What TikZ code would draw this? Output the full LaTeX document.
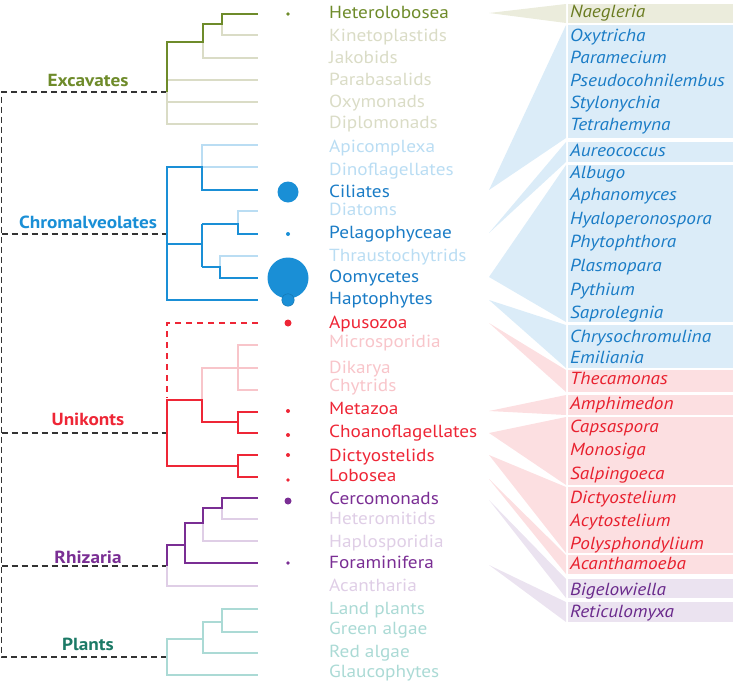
\documentclass[tikz,border=0pt]{standalone}
\usepackage{fontspec}
\setmainfont{PT Sans}[FakeStretch=1.1]
\definecolor{exD}{HTML}{6E8B2A}
\definecolor{exL}{HTML}{DADCC6}
\definecolor{exT}{HTML}{6B7C22}
\definecolor{exB}{HTML}{EBECDC}
\definecolor{chD}{HTML}{1A8FD6}
\definecolor{chL}{HTML}{BADDF3}
\definecolor{chT}{HTML}{1A7CC6}
\definecolor{chB}{HTML}{DBECF8}
\definecolor{unD}{HTML}{EE2636}
\definecolor{unL}{HTML}{F8C5CA}
\definecolor{unT}{HTML}{E8202E}
\definecolor{unB}{HTML}{FCDFE1}
\definecolor{rhD}{HTML}{7A2E94}
\definecolor{rhL}{HTML}{DFCEE6}
\definecolor{rhT}{HTML}{6A2A8C}
\definecolor{rhB}{HTML}{EBE3F0}
\definecolor{plD}{HTML}{1C7A66}
\definecolor{plL}{HTML}{ABDAD5}
\definecolor{dashc}{HTML}{333333}
\newcommand\taxfont{\fontsize{17.5}{20}\selectfont}
\newcommand\spfont{\fontsize{17.5}{20}\selectfont\itshape}
\newcommand\cladefont{\fontsize{17.5}{20}\selectfont\bfseries}
\begin{document}
\begin{tikzpicture}[x=1pt,y=-1pt,
  dk/.style={line width=2.6pt},
  lt/.style={line width=2.2pt},
  taxon/.style={anchor=base west, inner sep=0pt, font=\taxfont},
  species/.style={anchor=base west, inner sep=0pt, font=\spfont},
  clade/.style={anchor=base, inner sep=0pt, font=\cladefont},
  cdash/.style={draw=dashc, line width=1.8pt, dash pattern=on 6pt off 4pt},
  bubble/.style={circle, inner sep=0pt}]
\useasboundingbox (0,0) rectangle (733,683);
% ---------- flags (wedges + boxes) ----------
\foreach \ay/\t/\b/\c in {13/4/23/exB, 190/25/138/chB, 233/142/162/chB, 277/165/322/chB, 300/325/368/chB, 323/370/392/unB, 411/395/415/unB, 433/417/485/unB, 455/487/553/unB, 479/555/574/unB, 500/579/598/rhB, 565/602/622/rhB}
{
  \fill[fill=\c] (489,\ay) -- (566,\t) -- (566,\b) -- cycle;
  \fill[fill=\c] (567.5,\t) rectangle (733,\b);
}
% ---------- left dashed backbone ----------
\coordinate (bbTop) at (1.5,92);
\coordinate (bbBot) at (1.5,657);
\coordinate (exR) at (167,92);
\coordinate (chR) at (167,234);
\coordinate (unR) at (167,433);
\coordinate (rhR) at (167,566);
\coordinate (plR) at (167,657);
\draw[cdash] (exR) -- (bbTop) -- (bbBot) -- (plR);
\draw[cdash] (1.5,234) -- (chR);
\draw[cdash] (1.5,433) -- (unR);
\draw[cdash] (1.5,566) -- (rhR);
% ---------- Excavates ----------
\begin{scope}[draw=exL, lt]
\draw (222,24) -- (222,35) -- (258,35);
\draw (203,41) -- (203,58) -- (258,58);
\draw (167,92) -- (167,124) -- (258,124);
\draw (167,80) -- (258,80);
\draw (167,102) -- (258,102);
\end{scope}
\draw[draw=exD, dk] (258,14) -- (222,14) -- (222,24) -- (203,24) -- (203,42) -- (167,42) -- (167,92);
% ---------- Chromalveolates ----------
\begin{scope}[draw=chL, lt]
\draw (202,167) -- (202,145) -- (258,145);
\draw (202,167) -- (258,167);
\draw (238,224) -- (238,211) -- (258,211);
\draw (220,267) -- (220,256) -- (258,256);
\end{scope}
\begin{scope}[draw=chD, dk]
\draw (258,190) -- (202,190) -- (202,167) -- (167,167) -- (167,300) -- (258,300);
\draw (167,244) -- (202,244);
\draw (202,224) -- (202,267);
\draw (202,224) -- (238,224) -- (238,234) -- (258,234);
\draw (202,267) -- (220,267) -- (220,278) -- (258,278);
\end{scope}
% ---------- Unikonts ----------
\begin{scope}[draw=unL, lt]
\draw (202,400) -- (202,368) -- (258,368);
\draw (258,345) -- (238,345) -- (238,390) -- (258,390);
\end{scope}
\draw[draw=unD, line width=1.8pt, dash pattern=on 6pt off 5pt] (258,323) -- (167,323) -- (167,398);
\begin{scope}[draw=unD, dk]
\draw (258,412) -- (238,412) -- (238,433) -- (258,433);
\draw (238,422) -- (202,422) -- (202,400) -- (167,400) -- (167,466) -- (238,466);
\draw (258,455) -- (238,455) -- (238,477) -- (258,477);
\end{scope}
% ---------- Rhizaria ----------
\begin{scope}[draw=rhL, lt]
\draw (222,508) -- (222,519) -- (258,519);
\draw (203,523) -- (203,541) -- (258,541);
\draw (167,566) -- (167,586) -- (258,586);
\end{scope}
\begin{scope}[draw=rhD, dk]
\draw (258,498) -- (222,498) -- (222,508) -- (203,508) -- (203,523) -- (185,523) -- (185,563) -- (258,563);
\draw (185,545) -- (167,545) -- (167,566);
\end{scope}
% ---------- Plants ----------
\begin{scope}[draw=plL, lt]
\draw (258,609) -- (222,609) -- (222,632) -- (258,632);
\draw (222,622) -- (203,622) -- (203,653) -- (258,653);
\draw (203,639) -- (167,639) -- (167,675) -- (258,675);
\end{scope}
% ---------- clade labels ----------
\node[clade, text=exD] (lEx) at (88,86) {Excavates};
\node[clade, text=chD] (lCh) at (88,228) {Chromalveolates};
\node[clade, text=unD] (lUn) at (88,425) {Unikonts};
\node[clade, text=rhD] (lRh) at (88,563) {Rhizaria};
\node[clade, text=plD] (lPl) at (88,650) {Plants};
% ---------- bubbles ----------
\node[bubble, fill=exD, minimum size=3.6pt] (bHet) at (288,14) {};
\node[bubble, fill=chD, minimum size=21pt] (bCil) at (288,192) {};
\node[bubble, fill=chD, minimum size=4pt] (bPel) at (288,234) {};
\node[bubble, fill=chD, minimum size=41pt] (bOom) at (288,278) {};
\node[bubble, fill=chD, draw=chD!80!black, line width=0.4pt, minimum size=12.5pt] (bHap) at (288,300) {};
\node[bubble, fill=unD, minimum size=7pt] (bApu) at (288,323) {};
\node[bubble, fill=unD, minimum size=4pt] (bMet) at (288,411) {};
\node[bubble, fill=unD, minimum size=4pt] (bCho) at (288,435) {};
\node[bubble, fill=unD, minimum size=4pt] (bDic) at (288,455) {};
\node[bubble, fill=unD, minimum size=3.6pt] (bLob) at (288,480) {};
\node[bubble, fill=rhD, minimum size=7pt] (bCer) at (288,501) {};
\node[bubble, fill=rhD, minimum size=3.6pt] (bFor) at (288,563) {};
% ---------- taxa ----------
\foreach \n/\y/\c/\t in {
 t1/18/exD/Heterolobosea, t2/41/exL/Kinetoplastids, t3/63/exL/Jakobids,
 t4/85/exL/Parabasalids, t5/107/exL/Oxymonads, t6/128/exL/Diplomonads,
 t7/152/chL/Apicomplexa, t8/175/chL/Dinoflagellates, t9/197/chT/Ciliates,
 t10/215/chL/Diatoms, t11/238/chT/Pelagophyceae, t12/261/chL/Thraustochytrids,
 t13/282/chT/Oomycetes, t14/304/chT/Haptophytes, t15/328/unD/Apusozoa,
 t16/347/unL/Microsporidia, t17/373/unL/Dikarya, t18/391/unL/Chytrids,
 t19/414/unD/Metazoa, t20/437/unD/Choanoflagellates, t21/461/unD/Dictyostelids,
 t22/481/unD/Lobosea, t23/504/rhD/Cercomonads, t24/524/rhL/Heteromitids,
 t25/547/rhL/Haplosporidia, t26/568/rhD/Foraminifera, t27/591/rhL/Acantharia,
 t28/614/plL/Land plants, t29/634/plL/Green algae, t30/657/plL/Red algae,
 t31/677/plL/Glaucophytes}
{ \node[taxon, text=\c] (\n) at (329,\y) {\t}; }
% ---------- species ----------
\foreach \n/\y/\c/\t in {
 s1/17/exT/Naegleria, s2/41/chT/Oxytricha, s3/63/chT/Paramecium,
 s4/86/chT/Pseudocohnilembus, s5/108/chT/Stylonychia, s6/130/chT/Tetrahemyna,
 s7/156/chT/Aureococcus, s8/178/chT/Albugo, s9/200/chT/Aphanomyces,
 s10/224/chT/Hyaloperonospora, s11/247/chT/Phytophthora, s12/271/chT/Plasmopara,
 s13/295/chT/Pythium, s14/318/chT/Saprolegnia, s15/342/chT/Chrysochromulina,
 s16/363/chT/Emiliania, s17/384/unT/Thecamonas, s18/409/unT/Amphimedon,
 s19/432/unT/Capsaspora, s20/455/unT/Monosiga, s21/479/unT/Salpingoeca,
 s22/503/unT/Dictyostelium, s23/526/unT/Acytostelium, s24/549/unT/Polysphondylium,
 s25/569/unT/Acanthamoeba, s26/595/rhT/Bigelowiella, s27/617/rhT/Reticulomyxa}
{ \node[species, text=\c] (\n) at (570,\y) {\t}; }
\end{tikzpicture}
\end{document}
